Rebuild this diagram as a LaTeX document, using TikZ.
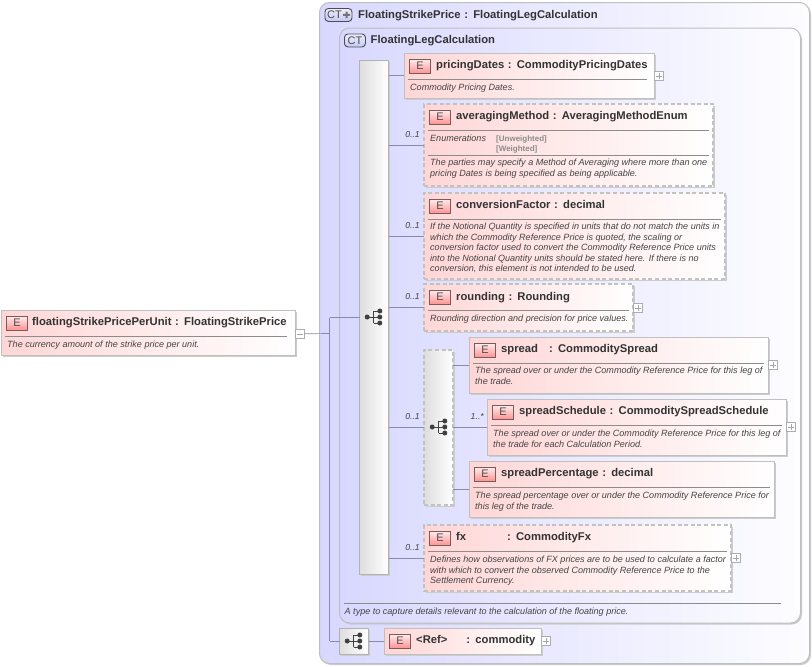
\documentclass[tikz,border=0pt]{standalone}
\usepackage{fontspec}
\setmainfont{Liberation Sans}
\usetikzlibrary{shadows}
\definecolor{ink}{HTML}{333333}
\definecolor{descink}{HTML}{444444}
\definecolor{edge}{HTML}{C0C0C0}
\definecolor{conn}{HTML}{8A8AA8}
\definecolor{pinkl}{HTML}{FFD6D6}
\definecolor{lav}{HTML}{D8D8FF}
\definecolor{ctfill}{HTML}{C4C8F4}
\definecolor{ebord}{HTML}{7A5A5A}
\newcommand{\sep}{\hspace{.5pt} :\hspace{1pt} }
\tikzset{
  anyshadow/.style={general shadow={shadow xshift=1.5pt,shadow yshift=-1.5pt,fill=black!20}},
  boxbase/.style={rectangle,anchor=north west,inner sep=0pt,outer sep=0pt,anyshadow},
  elembox/.style={boxbase,draw=edge,line width=1pt,left color=pinkl,right color=white},
  optbox/.style={elembox,draw=black!24,line width=1.1pt,dash pattern=on 4pt off 2.6pt},
  ctbox/.style={boxbase,draw=black!25,line width=1pt,rounded corners=10pt,left color=lav,right color=white!95!lav},
  seqbox/.style={boxbase,draw=black!30,line width=.9pt,left color=black!13,right color=white},
  seqopt/.style={seqbox,draw=black!24,line width=1.1pt,dash pattern=on 4pt off 2.6pt},
  conn/.style={draw=conn,line width=.7pt},
  rule/.style={draw=black!45,line width=.7pt},
  title/.style={anchor=base west,inner sep=0pt,font=\fontsize{11.25}{13}\bfseries\selectfont,text=ink},
  desc/.style={anchor=north west,inner sep=0pt,align=left,font=\fontsize{9.05}{10.6}\itshape\selectfont,text=descink},
  mult/.style={anchor=base east,inner sep=0pt,font=\fontsize{8.7}{10}\itshape\selectfont,text=descink},
  ebadge/.style={rectangle,anchor=north west,minimum width=21pt,minimum height=13.5pt,inner sep=0pt,draw=ebord,line width=.9pt,top color=white!92!red,bottom color=red!42!white,font=\fontsize{11}{12}\selectfont,text=black!70},
  ctbadge/.style={rectangle,rounded corners=3.5pt,anchor=north west,minimum height=13pt,inner sep=0pt,draw=black!70,line width=.9pt,top color=white!70!ctfill,bottom color=ctfill,font=\fontsize{11}{12}\selectfont,text=black!70},
  pm/.style={rectangle,anchor=north west,minimum width=9pt,minimum height=9pt,inner sep=0pt,draw=black!32,line width=.6pt,fill=white},
}
\newcommand{\ebox}[6]{%
  \node[#2,minimum width=#5pt,minimum height=#6pt] (#1) at (#3,#4) {};
  \node[ebadge] (#1-e) at (#3+5,#4+6) {E};
}
\newcommand{\pmbox}[4]{%
  \node[pm] (#1) at (#2,#3) {};
  \draw[draw=black!35,line width=.6pt] (#1.center)+(-2.8,0) -- +(2.8,0);
  \ifx#4p\draw[draw=black!35,line width=.6pt] (#1.center)+(0,-2.8) -- +(0,2.8);\fi
}
\newcommand{\seqicon}[2]{%
  \begin{scope}[shift={(#1,#2)}]
    \draw[black!75,line width=1pt] (-6,0) -- (0,0) (0,-6) -- (0,6) (0,-6) -- (6,-6) (0,0) -- (6,0) (0,6) -- (6,6);
    \fill[black!75] (-6.3,0) circle (2.5) (6.3,-6) circle (2.5) (6.3,0) circle (2.5) (6.3,6) circle (2.5);
  \end{scope}
}
\begin{document}
\begin{tikzpicture}[x=1pt,y=-1pt]
\useasboundingbox (0,0) rectangle (812,667);
% outer complex type
\node[ctbox,minimum width=490pt,minimum height=661pt] (outer) at (319.5,2.5) {};
\node[ctbadge,minimum width=27pt] (outerbadge) at (324.5,8) {};
\node[anchor=west,inner sep=0pt,font=\fontsize{11}{12}\selectfont,text=black!70] (outerct) at (327,14.7) {CT};
\fill[black!55] (345.5,11.6) rectangle (347.5,18.2) (343.2,13.9) rectangle (349.8,15.9);
\node[title] (outertitle) at (358,18) {FloatingStrikePrice\sep FloatingLegCalculation};
% inner complex type
\node[ctbox,minimum width=461pt,minimum height=595pt] (inner) at (339.5,28) {};
\node[ctbadge,minimum width=21pt] (innerbadge) at (344,33.5) {CT};
\node[title] (innertitle) at (370.5,43.5) {FloatingLegCalculation};
\draw[rule] (344,603.5) -- (781,603.5);
\node[desc] (innerdesc) at (344.5,607.5) {A type to capture details relevant to the calculation of the floating price.};
% sequence bars
\node[seqbox,minimum width=29pt,minimum height=514pt] (seq) at (359.5,60.5) {};
\seqicon{373.5}{317}
\node[seqopt,minimum width=29pt,minimum height=155pt] (choice) at (424,350) {};
\seqicon{438.5}{427}
\node[seqbox,minimum width=29pt,minimum height=26pt] (seqb) at (339.5,628) {};
\seqicon{353.5}{641}
% root
\ebox{root}{elembox}{1}{310}{294}{45}
\node[title] (roott) at (32,325.5) {floatingStrikePricePerUnit\sep FloatingStrikePrice};
\draw[rule] (5,336) -- (287,336);
\node[desc] (rootd) at (7,341) {The currency amount of the strike price per unit.};
\pmbox{rootpm}{295}{329}{m}
% pricingDates
\ebox{pd}{elembox}{404}{53}{250}{45}
\node[title] at (436,68.5) {pricingDates\sep CommodityPricingDates};
\draw[rule] (408,79) -- (647,79);
\node[desc] at (410,84) {Commodity Pricing Dates.};
\pmbox{pdpm}{654}{71}{p}
% averagingMethod
\ebox{am}{optbox}{424}{104}{289}{82}
\node[title] at (456,119.5) {averagingMethod\sep AveragingMethodEnum};
\draw[rule] (428,130) -- (709,130);
\node[anchor=base west,inner sep=0pt,font=\fontsize{9.05}{10}\itshape\selectfont,text=descink] at (430,141) {Enumerations};
\node[anchor=base west,inner sep=0pt,font=\fontsize{8}{10}\bfseries\selectfont,text=black!45] at (496,141) {[Unweighted]};
\node[anchor=base west,inner sep=0pt,font=\fontsize{8}{10}\bfseries\selectfont,text=black!45] at (496,151) {[Weighted]};
\draw[rule] (428,155) -- (709,155);
\node[desc] at (430,159) {The parties may specify a Method of Averaging where more than one\\pricing Dates is being specified as being applicable.};
% conversionFactor
\ebox{cf}{optbox}{424}{193}{301}{86}
\node[title] at (456,208.5) {conversionFactor\sep decimal};
\draw[rule] (428,219) -- (721,219);
\node[desc] at (430,222.7) {If the Notional Quantity is specified in units that do not match the units in\\which the Commodity Reference Price is quoted, the scaling or\\conversion factor used to convert the Commodity Reference Price units\\into the Notional Quantity units should be stated here. If there is no\\conversion, this element is not intended to be used.};
% rounding
\ebox{ro}{optbox}{424}{284}{209}{47}
\node[title] at (456,300) {rounding\sep Rounding};
\draw[rule] (428,310) -- (629,310);
\node[desc] at (430,315) {Rounding direction and precision for price values.};
\pmbox{ropm}{633}{303}{p}
% spread
\ebox{sp}{elembox}{469}{337}{299}{56}
\node[title] at (501,352.5) {spread\hspace{11pt}:\hspace{1pt} CommoditySpread};
\draw[rule] (473,363) -- (764,363);
\node[desc] at (475,367) {The spread over or under the Commodity Reference Price for this leg of\\the trade.};
\pmbox{sppm}{768}{360}{p}
% spreadSchedule
\ebox{ss}{elembox}{487}{399}{299}{56}
\node[title] at (519,414.5) {spreadSchedule\sep CommoditySpreadSchedule};
\draw[rule] (491,425) -- (782,425);
\node[desc] at (493,429.7) {The spread over or under the Commodity Reference Price for this leg of\\the trade for each Calculation Period.};
\pmbox{sspm}{786}{422}{p}
% spreadPercentage
\ebox{pc}{elembox}{469}{461}{305}{56}
\node[title] at (501,476.5) {spreadPercentage\sep decimal};
\draw[rule] (473,487) -- (770,487);
\node[desc] at (475,491.7) {The spread percentage over or under the Commodity Reference Price for\\this leg of the trade.};
% fx
\ebox{fx}{optbox}{424}{525}{307}{66}
\node[title] at (456,540.5) {fx\hspace{41pt}:\hspace{1pt} CommodityFx};
\draw[rule] (428,551) -- (727,551);
\node[desc] at (430,555.7) {Defines how observations of FX prices are to be used to calculate a factor\\with which to convert the observed Commodity Reference Price to the\\Settlement Currency.};
\pmbox{fxpm}{731}{553}{p}
% ref
\ebox{rf}{elembox}{384}{628}{157}{26}
\node[title] at (416,643.5) {<Ref>\hspace{19pt}:\hspace{1pt} commodity};
\pmbox{rfpm}{541}{636}{p}
% connectors
\coordinate (trunk) at (329.5,333.5);
\draw[conn] (rootpm.east) -- (trunk);
\draw[conn] (trunk |- seq.west) -- (trunk |- seqb.west);
\draw[conn] (trunk |- seq.west) -- (seq.west);
\draw[conn] (trunk |- seqb.west) -- (seqb.west);
\draw[conn] (seqb.east) -- (rf.west);
\foreach \n/\l in {pd/,am/0..1,cf/0..1,ro/0..1,fx/0..1}{
  \draw[conn] (seq.east |- \n.west) -- (\n.west);
  \path (\n.west) ++(-4,-8) node[mult] {\l};
}
\draw[conn] (seq.east |- choice.west) -- (choice.west);
\node[mult] (m1) at (420,419.5) {0..1};
\draw[conn] (choice.east |- sp.west) -- (sp.west);
\draw[conn] (choice.east |- ss.west) -- (ss.west);
\draw[conn] (choice.east |- pc.west) -- (pc.west);
\node[mult] (m2) at (484,419.5) {1..*};
\end{tikzpicture}
\end{document}
